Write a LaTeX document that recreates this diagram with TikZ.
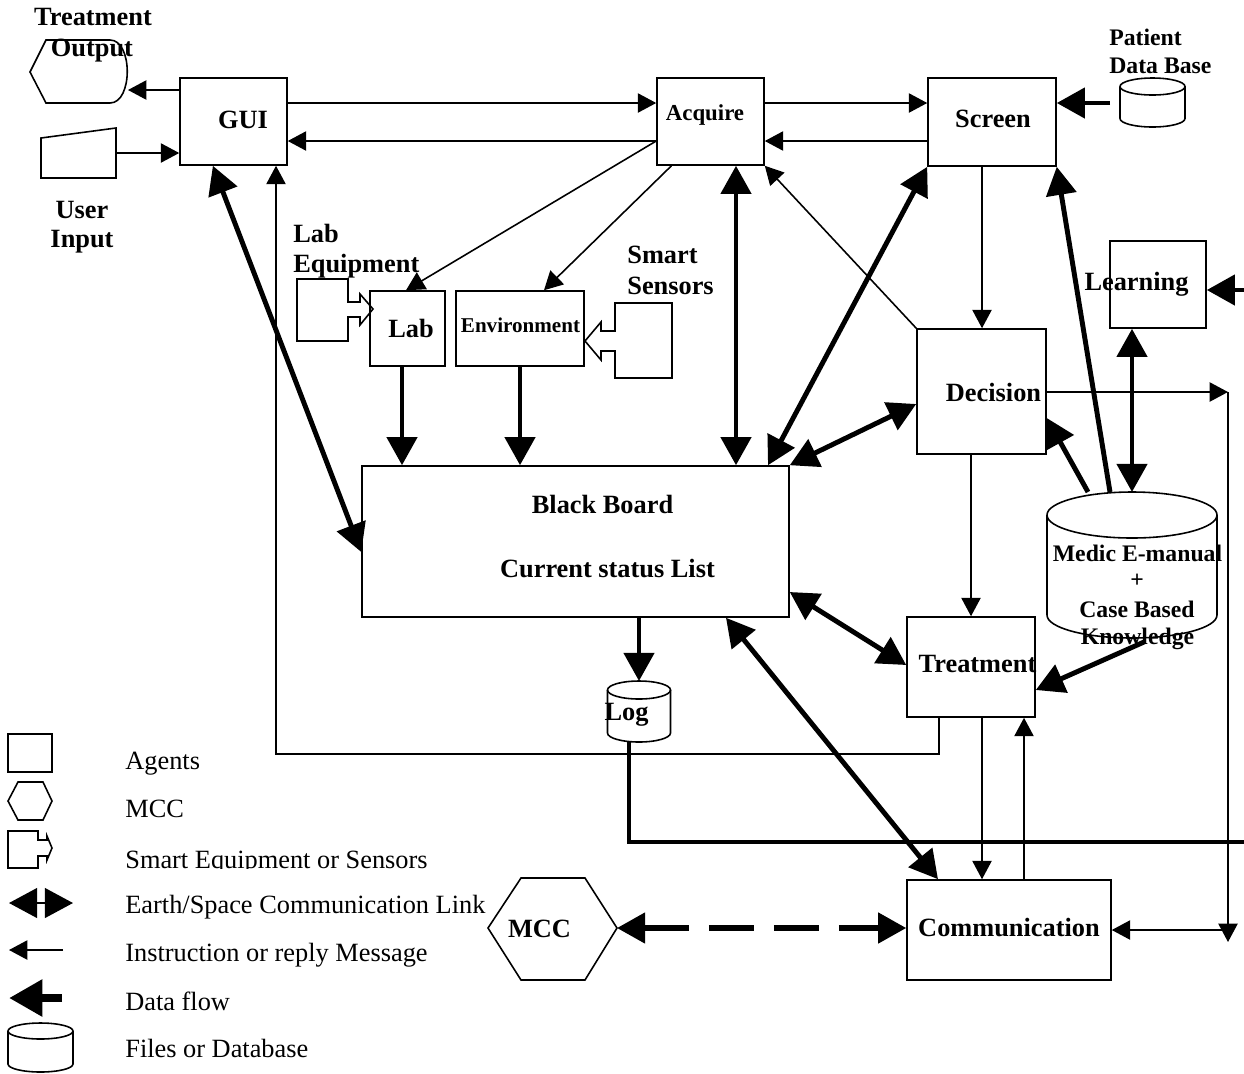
\documentclass[tikz,border=0pt]{standalone}
\usepackage{fontspec}
\setmainfont{Liberation Serif}
\usetikzlibrary{arrows.meta}
\usetikzlibrary{calc}

% data base cylinder: x, top, bottom, x radius, y radius (all in px)
\newcommand{\dbcyl}[5]{%
  \draw[line width=0.9pt] (#1,#2+#5) ellipse [x radius={#4*0.02cm}, y radius={#5*0.02cm}];
  \draw[line width=0.9pt] (#1-#4,#2+#5) -- (#1-#4,#3-#5)
     arc [start angle=180, end angle=360, x radius={#4*0.02cm}, y radius={#5*0.02cm}] -- (#1+#4,#2+#5);
}

\begin{document}
\begin{tikzpicture}[x=0.02cm,y=-0.02cm,
  box/.style={draw, line width=0.9pt, inner sep=0pt},
  lbl/.style={font=\bfseries\fontsize{15}{17}\selectfont, inner sep=0pt, anchor=base},
  small/.style={font=\bfseries\fontsize{13.5}{16}\selectfont},
  note/.style={font=\fontsize{15}{17}\selectfont, inner sep=0pt, anchor=base west},
  outline/.style={line width=0.9pt},
  msg/.style={line width=0.9pt, -{Triangle[length=10.5pt,width=11pt]}},
  flow/.style={line width=2.8pt, -{Triangle[length=16pt,width=17pt]}},
  link/.style={line width=2.8pt, {Triangle[length=16pt,width=17pt]}-{Triangle[length=16pt,width=17pt]}}]

\useasboundingbox (0,0) rectangle (1244,1073);

% agents
\node[box, minimum width=2.14cm, minimum height=1.74cm] (gui) at (233.5,121.5) {};
\node[box, minimum width=2.14cm, minimum height=1.74cm] (acq) at (710.5,121.5) {};
\node[box, minimum width=2.56cm, minimum height=1.76cm] (scr) at (992,122) {};
\node[box, minimum width=1.92cm, minimum height=1.74cm] (lrn) at (1158,284.5) {};
\node[box, minimum width=1.5cm, minimum height=1.5cm] (lab) at (407.5,328.5) {};
\node[box, minimum width=2.56cm, minimum height=1.5cm] (env) at (520,328.5) {};
\node[box, minimum width=2.58cm, minimum height=2.5cm] (dec) at (981.5,391.5) {};
\node[box, minimum width=8.54cm, minimum height=3.02cm] (bb) at (575.5,541.5) {};
\node[box, minimum width=2.56cm, minimum height=2cm] (trt) at (971,667) {};
\node[box, minimum width=4.08cm, minimum height=2cm] (com) at (1009,930) {};

\node[lbl] (gui-t) at (243,128) {GUI};
\node[lbl, font=\bfseries\fontsize{13}{15}\selectfont] (acq-t) at (705,120) {Acquire};
\node[lbl] (scr-t) at (993,127) {Screen};
\node[lbl] (lrn-t) at (1136.5,290) {Learning};
\node[lbl] (lab-t) at (411,337) {Lab};
\node[lbl, font=\bfseries\fontsize{12}{14}\selectfont] (env-t) at (520.5,332) {Environment};
\node[lbl] (dec-t) at (993.5,401) {Decision};
\node[lbl] (bb-t1) at (602.5,513) {Black Board};
\node[lbl] (bb-t2) at (607.5,577) {Current status List};
\node[lbl] (trt-t) at (977.5,672) {Treatment};
\node[lbl] (com-t) at (1009,936) {Communication};

% treatment output and user input
\draw[outline] (30,72) -- (46,40) -- (110,40) .. controls (133,40) and (133,103) .. (110,103) -- (46,103) -- cycle;
\coordinate (outp) at (128,90);
\node[lbl] (out-t1) at (93,25) {Treatment};
\node[lbl] (out-t2) at (92,56) {Output};

\draw[outline] (41,138) -- (116,128) -- (116,178) -- (41,178) -- cycle;
\coordinate (inp) at (116,153);
\node[lbl] (inp-t1) at (82,218) {User};
\node[lbl] (inp-t2) at (82,247) {Input};

% smart equipment
\draw[outline] (297,279) -- (348,279) -- (348,302) -- (360,302) -- (360,294) -- (373,309)
  -- (360,325) -- (360,317) -- (348,317) -- (348,341) -- (297,341) -- cycle;
\node[lbl, anchor=base west] (leq-t1) at (293,242) {Lab};
\node[lbl, anchor=base west] (leq-t2) at (293,272) {Equipment};

\draw[outline] (615,303) -- (672,303) -- (672,378) -- (615,378) -- (615,351) -- (601,351)
  -- (601,360) -- (585,341) -- (601,322) -- (601,331) -- (615,331) -- cycle;
\node[lbl, anchor=base west] (ss-t1) at (627,263) {Smart};
\node[lbl, anchor=base west] (ss-t2) at (627,294) {Sensors};

% data bases
\dbcyl{1152.5}{78}{127}{32.5}{8.5}
\node[lbl, small, anchor=base west] (pdb-t1) at (1109,45) {Patient};
\node[lbl, small, anchor=base west] (pdb-t2) at (1109,73) {Data Base};
\coordinate (pdbL) at (1110,103);

\dbcyl{1132}{492}{638}{85}{23}
\coordinate (med-top) at (1132,492);
\coordinate (med-bot) at (1132,638);
\node[lbl, small] (med-t1) at (1137.5,561) {Medic E-manual};
\node[lbl, small] (med-t2) at (1137,587) {+};
\node[lbl, small] (med-t3) at (1137,617) {Case Based};
\node[lbl, small] (med-t4) at (1137.5,644) {Knowledge};

\dbcyl{639}{681}{742}{31.5}{9}
\coordinate (log-top) at (639,681);
\coordinate (logL) at (629,742);
\node[lbl] (log-t) at (626.5,720) {Log};

% MCC
\draw[outline] (488,928) -- (521,878) -- (585,878) -- (617,928) -- (585,980) -- (521,980) -- cycle;
\coordinate (mccR) at (617,928);
\node[lbl] (mcc-t) at (539.5,937) {MCC};

% messages
\draw[msg] (gui.west |- outp) -- (outp);
\draw[msg] (inp) -- (inp -| gui.west);
\draw[msg] (gui.east |- 0,103) -- (acq.west |- 0,103);
\draw[msg] (acq.west |- 0,141) -- (gui.east |- 0,141);
\draw[msg] (acq.east |- 0,103) -- (scr.west |- 0,103);
\draw[msg] (scr.west |- 0,141) -- (acq.east |- 0,141);
\draw[msg] (acq.west |- 0,141) -- (lab.north -| 406,0);
\draw[msg] ($(acq.south west)!0.14!(acq.south east)$) -- (env.north -| 544,0);
\draw[msg] (dec.north west) -- (acq.south east);
\draw[msg] (scr.south -| 982,0) -- (dec.north -| 982,0);
\draw[msg] (dec.south -| trt.north) -- (trt.north);
\draw[msg] (trt.south -| 982,0) -- (com.north -| 982,0);
\draw[msg] (com.north -| 1024,0) -- (trt.south -| 1024,0);
\coordinate (loopR) at (939,754);
\coordinate (loopL) at (276,754);
\draw[msg] (loopR |- trt.south) -- (loopR) -- (loopL) -- (loopL |- gui.south);
\coordinate (rt) at (1228,392);
\coordinate (rb) at (1228,942);
\draw[msg] (dec.east |- rt) -- (rt);
\draw[msg] (rt) -- (rb);
\draw[msg] (rt |- com.east) -- (com.east);

% data flow
\draw[flow] (pdbL) -- (scr.east |- pdbL);
\coordinate (lrnR) at (1244,290);
\draw[flow] (lrnR) -- (lrn.east |- lrnR);
\draw[flow] ([xshift=-0.44cm]med-top) -- (scr.south east);
\draw[flow] ([xshift=-0.88cm]med-top) -- (dec.east |- 0,418);
\draw[flow] ([xshift=0.24cm,yshift=-0.08cm]med-bot) -- (trt.east |- 0,690);
\draw[flow] (lab.south -| 402,0) -- (bb.north -| 402,0);
\draw[flow] (env.south) -- (env.south |- bb.north);
\draw[flow] (bb.south -| log-top) -- (log-top);
\draw[line width=2.8pt] (logL) -- (logL |- 0,842) -- (1244,842);

% links
\draw[link] ($(gui.south west)!0.31!(gui.south east)$) -- (bb.west |- 0,552);
\draw[link] (acq.south -| 736,0) -- (bb.north -| 736,0);
\draw[link] (scr.south west) -- (bb.north -| 768,0);
\draw[link] (dec.west |- 0,404) -- (bb.north east);
\draw[link] (lrn.south -| med-top) -- (med-top);
\draw[link] (bb.east |- 0,592) -- (trt.west |- 0,665);
\draw[link] (bb.south -| 726,0) -- (com.north -| 938,0);
\draw[link, line width=3pt, dash pattern=on 26pt off 11pt] (mccR) -- (com.west |- mccR);

% key
\draw[outline] (8,734) rectangle (52,772);
\draw[outline] (8,801) -- (18,782) -- (43,782) -- (52,801) -- (43,820) -- (18,820) -- cycle;
\draw[outline] (8,831) -- (38,831) -- (38,840) -- (47,840) -- (47,836) -- (52,848) -- (47,860)
  -- (47,856) -- (38,856) -- (38,868) -- (8,868) -- cycle;
\draw[link, line width=0.9pt] (9,903) -- (73,903);
\draw[msg] (63,950) -- (9,950);
\draw[line width=5pt, -{Triangle[length=19pt,width=20pt]}] (62,998) -- (9,998);
\dbcyl{40.5}{1023}{1072}{32.5}{8}

\node[note] (key-t1) at (125,769) {Agents};
\node[note] (key-t2) at (125,817) {MCC};
\begin{scope}
\clip (120,840) rectangle (520,868);
\node[note] (key-t3) at (125,868) {Smart Equipment or Sensors};
\end{scope}
\node[note] (key-t4) at (125,913) {Earth/Space Communication Link};
\node[note] (key-t5) at (125,961) {Instruction or reply Message};
\node[note] (key-t6) at (125,1010) {Data flow};
\node[note] (key-t7) at (125,1057) {Files or Database};

\end{tikzpicture}
\end{document}
